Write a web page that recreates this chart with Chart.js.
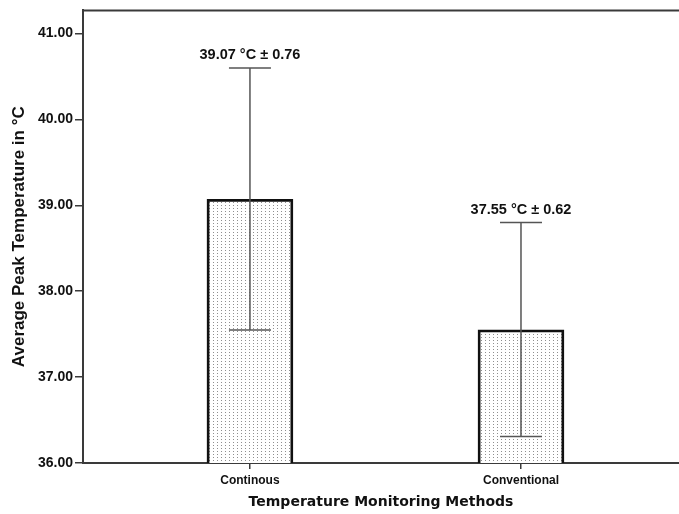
<!DOCTYPE html>
<html><head><meta charset="utf-8">
<script src="https://cdn.jsdelivr.net/npm/chart.js@4/dist/chart.umd.min.js"></script>
<style>html,body{margin:0;padding:0;background:#fff;overflow:hidden}#wrap{width:679px;height:514px}</style>
</head><body><div id="wrap"><canvas id="c" width="679" height="514"></canvas></div>
<script>
// ---- data ----
const categories = ['Continous', 'Conventional'];
const means = [39.07, 37.55];
const errLow = [37.55, 36.31];
const errHigh = [40.60, 38.80];
const valueLabels = ['39.07 \u00B0C \u00B1 0.76', '37.55 \u00B0C \u00B1 0.62'];
const yTicks = [36, 37, 38, 39, 40, 41];
const xTitle = 'Temperature Monitoring Methods';
const yTitle = 'Average Peak Temperature in \u00B0C';

// dotted fill pattern
function makePattern() {
  const p = document.createElement('canvas');
  p.width = 4; p.height = 3;
  const g = p.getContext('2d');
  g.fillStyle = '#ffffff'; g.fillRect(0, 0, 4, 3);
  g.fillStyle = '#8f8f8f'; g.fillRect(1, 1, 1, 1);
  return document.getElementById('c').getContext('2d').createPattern(p, 'repeat');
}

const AX = '#3a3a3a';
const boldArial = (s) => ({ family: 'Liberation Sans, Arial, sans-serif', size: s, weight: 'bold' });

const extras = {
  id: 'extras',
  beforeDatasetsDraw(chart) {
    const { ctx, chartArea } = chart;
    ctx.save();
    ctx.strokeStyle = AX; ctx.lineWidth = 2;
    ctx.beginPath();
    ctx.moveTo(chartArea.left, chartArea.top);
    ctx.lineTo(chartArea.right, chartArea.top);
    ctx.stroke();
    ctx.restore();
  },
  afterDatasetsDraw(chart) {
    const { ctx } = chart;
    const xs = chart.scales.x, ys = chart.scales.y;
    ctx.save();
    categories.forEach((c, i) => {
      const x = xs.getPixelForValue(i);
      const yl = ys.getPixelForValue(errLow[i]);
      const yh = ys.getPixelForValue(errHigh[i]);
      ctx.strokeStyle = '#555'; ctx.lineWidth = 1.5;
      ctx.beginPath();
      ctx.moveTo(x, yl); ctx.lineTo(x, yh);
      ctx.moveTo(x - 21, yh); ctx.lineTo(x + 21, yh);
      ctx.moveTo(x - 21, yl); ctx.lineTo(x + 21, yl);
      ctx.stroke();
      ctx.fillStyle = '#111';
      ctx.font = 'bold 14.5px "Liberation Sans", Arial, sans-serif';
      ctx.textAlign = 'center'; ctx.textBaseline = 'alphabetic';
      ctx.fillText(valueLabels[i], x, yh - 9);
    });
    ctx.restore();
  }
};

new Chart(document.getElementById('c'), {
  type: 'bar',
  data: {
    datasets: [{
      data: means.map((m, i) => ({ x: i, y: m })),
      backgroundColor: makePattern(),
      borderColor: '#111',
      borderWidth: 2.8,
      borderSkipped: false,
      barThickness: 86
    }]
  },
  options: {
    responsive: false,
    devicePixelRatio: 1,
    animation: false,
    layout: { padding: { top: 10, right: 0, left: 0, bottom: 0 } },
    plugins: { legend: { display: false }, tooltip: { enabled: false } },
    scales: {
      x: {
        type: 'linear',
        offset: false,
        min: -0.616, max: 1.583,
        afterBuildTicks: (s) => { s.ticks = categories.map((c, i) => ({ value: i })); },
        afterFit: (s) => { s.height = 51; },
        ticks: {
          callback: (v) => categories[v] ?? '',
          color: '#111', font: boldArial(12), padding: 4, maxRotation: 0, autoSkip: false
        },
        grid: { display: true, offset: false, drawOnChartArea: false, tickLength: 6, color: AX, lineWidth: 1.5 },
        border: { display: true, color: AX, width: 2 },
        title: { display: true, text: xTitle, color: '#111',
          font: { family: 'DejaVu Sans, Verdana, sans-serif', size: 14, weight: 'bold' },
          padding: { top: 0, bottom: 3 } }
      },
      y: {
        min: 36, max: 41.27,
        afterBuildTicks: (s) => { s.ticks = yTicks.map(v => ({ value: v })); },
        afterFit: (s) => { s.width = 83; },
        ticks: { callback: (v) => Number(v).toFixed(2), color: '#111', font: boldArial(14), padding: 2 },
        grid: { display: true, drawOnChartArea: false, tickLength: 8, color: AX, lineWidth: 1.5 },
        border: { display: true, color: AX, width: 2 },
        title: { display: true, text: yTitle, color: '#111', font: boldArial(17),
          padding: { top: 9, bottom: 0 } }
      }
    }
  },
  plugins: [extras]
});
</script>
</body></html>
